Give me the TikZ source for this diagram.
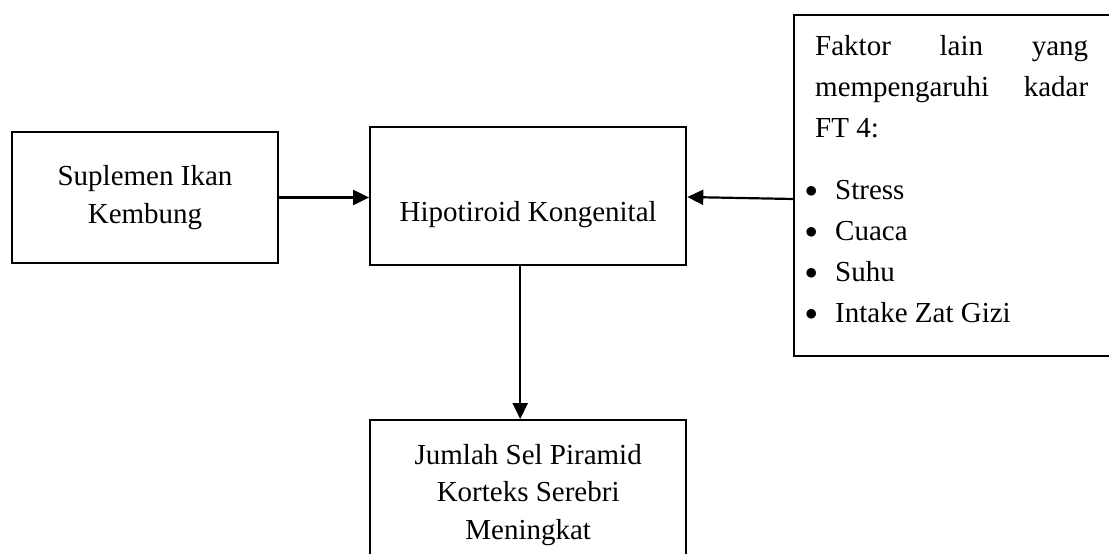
\documentclass[tikz,border=0pt]{standalone}
\usepackage{fontspec}
\setmainfont{Liberation Serif}
\usetikzlibrary{arrows.meta,positioning}

\begin{document}
\begin{tikzpicture}[
    x=1pt, y=-1pt,
    node distance=90pt,
    box/.style={rectangle, draw, line width=2.2pt, align=center, inner sep=0pt, font=\fontsize{29}{37.5}\selectfont},
    arrow/.style={-{Triangle[length=16pt,width=15pt]}, line width=2.2pt}
]
\useasboundingbox (0,0) rectangle (1109,554);
\clip (0,0) rectangle (1109,554);

% Boxes
\node[box, minimum width=266pt, minimum height=131pt] (supl) at (145,197.5) {Suplemen Ikan\\Kembung};
\node[box, minimum width=316pt, minimum height=138pt, text height=58pt, right=90pt of supl, yshift=1.5pt] (hipo) {Hipotiroid Kongenital};
\node[box, minimum width=316pt, minimum height=149pt, below=153pt of hipo] (hasil) {Jumlah Sel Piramid\\Korteks Serebri\\Meningkat};

% Other factors (box runs off the right edge)
\node[rectangle, inner sep=0pt, outer sep=0pt, minimum width=330pt, minimum height=341pt, anchor=north west] (faktor) at (794,15) {};
\draw[line width=2.2pt] (faktor.north east) -- (faktor.north west) -- (faktor.south west) -- (faktor.south east);
\node[anchor=north west, text width=273pt, align=flush left, inner sep=0pt, font=\fontsize{29}{41}\selectfont] (faktortxt) at ([xshift=21pt,yshift=-20pt]faktor.north west)
    {Faktor\hfill lain\hfill yang\\
     mempengaruhi\hfill kadar\\
     FT 4:\\[21pt]
     \hspace*{-10pt}\makebox[30pt][l]{\raisebox{2pt}{$\bullet$}}Stress\\
     \hspace*{-10pt}\makebox[30pt][l]{\raisebox{2pt}{$\bullet$}}Cuaca\\
     \hspace*{-10pt}\makebox[30pt][l]{\raisebox{2pt}{$\bullet$}}Suhu\\
     \hspace*{-10pt}\makebox[30pt][l]{\raisebox{2pt}{$\bullet$}}Intake Zat Gizi};

% Arrows
\draw[arrow] (supl.east) -- (supl.east -| hipo.west);
\draw[arrow] ([yshift=-13.5pt]faktor.west) -- ([yshift=-1pt]hipo.east);
\draw[arrow] ([xshift=-8pt]hipo.south) -- ([xshift=-8pt]hasil.north);

\end{tikzpicture}
\end{document}
